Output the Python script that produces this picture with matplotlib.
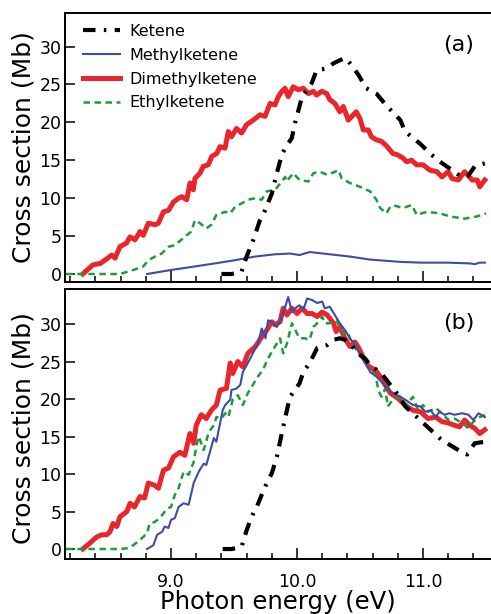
import matplotlib
matplotlib.use("Agg")
import matplotlib.pyplot as plt
from matplotlib.ticker import MultipleLocator, FixedLocator

plt.rcParams['font.family'] = ['DejaVu Sans']

# ---------------- data (panel a) ----------------
a_ket_E = [9.40, 9.48, 9.56, 9.60, 9.653, 9.706, 9.746, 9.80, 9.84, 9.88, 9.92, 9.958, 9.984, 10.04,
           10.117, 10.156, 10.236, 10.29, 10.34, 10.38, 10.42, 10.486, 10.55, 10.63, 10.71, 10.82,
           10.857, 10.976, 11.055, 11.135, 11.214, 11.307, 11.36, 11.41, 11.49]
a_ket_v = [0.0, 0.0, 0.3, 2.3, 4.5, 7.1, 8.4, 10.6, 13.3, 15.8, 17.0, 17.9, 19.9, 23.4,
           25.2, 26.9, 27.1, 27.8, 28.2, 28.5, 27.8, 26.3, 24.5, 23.8, 22.2, 20.3,
           18.8, 17.2, 15.9, 14.8, 13.9, 12.8, 13.0, 14.2, 14.6]

a_met_E = [8.81, 8.99, 9.19, 9.35, 9.50, 9.667, 9.825, 9.944, 10.02, 10.10, 10.26, 10.42, 10.58,
           10.74, 10.82, 10.98, 11.19, 11.37, 11.41, 11.45, 11.49]
a_met_v = [0.0, 0.5, 1.0, 1.4, 1.8, 2.3, 2.6, 2.7, 2.5, 2.9, 2.6, 2.3, 1.9,
           1.7, 1.6, 1.5, 1.5, 1.4, 1.3, 1.5, 1.5]

a_dim_E = [8.30, 8.38, 8.44, 8.49, 8.53, 8.556, 8.595, 8.648, 8.675, 8.714, 8.754, 8.78, 8.82,
           8.873, 8.90, 8.94, 8.98, 9.02, 9.06, 9.085, 9.125, 9.151, 9.177, 9.19, 9.23, 9.256,
           9.296, 9.323, 9.363, 9.389, 9.429, 9.455, 9.48, 9.52, 9.56, 9.60, 9.653, 9.706, 9.746,
           9.786, 9.825, 9.852, 9.88, 9.905, 9.93, 9.97, 10.01, 10.05, 10.09, 10.13, 10.156,
           10.196, 10.236, 10.26, 10.30, 10.34, 10.367, 10.407, 10.447, 10.47, 10.50, 10.526,
           10.566, 10.59, 10.63, 10.67, 10.71, 10.76, 10.80, 10.84, 10.87, 10.91, 10.95, 11.00,
           11.055, 11.11, 11.15, 11.20, 11.23, 11.28, 11.33, 11.39, 11.43, 11.45, 11.49]
a_dim_v = [0.0, 1.2, 1.4, 2.0, 2.5, 2.1, 3.6, 4.1, 4.9, 4.5, 5.6, 5.1, 6.7,
           6.5, 6.7, 8.2, 8.4, 9.5, 10.0, 10.2, 9.8, 12.0, 11.1, 12.6, 13.3, 14.2,
           14.4, 15.5, 15.9, 16.8, 16.6, 18.8, 18.1, 19.2, 18.6, 19.7, 20.3, 21.0, 20.8,
           22.5, 22.3, 23.4, 24.1, 24.5, 23.4, 24.7, 24.3, 24.5, 23.8, 24.1, 23.6,
           24.1, 23.8, 23.0, 22.5, 21.4, 22.1, 20.3, 21.0, 21.4, 20.5, 19.0,
           19.0, 18.1, 17.7, 17.5, 16.9, 15.9, 15.7, 15.3, 14.8, 15.0, 14.4, 14.4,
           13.7, 13.5, 12.8, 13.5, 12.6, 12.4, 13.5, 12.4, 12.4, 11.5, 12.4]

a_eth_E = [8.17, 8.595, 8.714, 8.78, 8.82, 8.873, 8.926, 8.98, 9.03, 9.11, 9.16, 9.19, 9.23, 9.28,
           9.32, 9.36, 9.43, 9.47, 9.51, 9.56, 9.61, 9.67, 9.72, 9.76, 9.825, 9.88, 9.905, 9.917,
           9.97, 10.02, 10.09, 10.13, 10.18, 10.236, 10.275, 10.33, 10.355, 10.42, 10.50, 10.58,
           10.63, 10.66, 10.71, 10.74, 10.78, 10.84, 10.91, 10.95, 11.03, 11.135, 11.21, 11.33,
           11.43, 11.50]
a_eth_v = [0.0, 0.0, 0.6, 1.0, 1.8, 2.3, 2.7, 3.6, 3.8, 4.9, 5.6, 7.1, 6.7, 6.0,
           6.5, 7.8, 8.2, 8.0, 8.9, 9.3, 9.8, 10.0, 9.8, 10.9, 11.1, 12.2, 12.8, 12.2,
           13.3, 12.4, 12.2, 13.3, 13.5, 13.1, 13.3, 13.7, 12.6, 12.0, 11.5, 10.9,
           9.8, 8.7, 8.0, 8.9, 9.0, 8.7, 9.1, 7.8, 8.2, 8.0, 7.6, 7.3,
           7.6, 8.0]

# ---------------- data (panel b) ----------------
b_ket_E = [9.41, 9.48, 9.56, 9.60, 9.64, 9.69, 9.746, 9.80, 9.84, 9.88, 9.905, 9.944, 9.984, 10.02,
           10.05, 10.10, 10.16, 10.24, 10.29, 10.34, 10.38, 10.43, 10.48, 10.54, 10.58, 10.63,
           10.68, 10.79, 10.86, 10.95, 11.06, 11.13, 11.21, 11.30, 11.35, 11.41, 11.49]
b_ket_v = [0.0, 0.0, 0.3, 2.5, 4.3, 6.0, 8.3, 10.1, 12.3, 15.5, 17.4, 20.3, 21.2, 22.1,
           23.6, 24.8, 26.8, 27.2, 27.9, 28.1, 27.9, 27.2, 26.1, 25.4, 24.5, 23.9,
           23.2, 20.8, 19.0, 17.6, 15.9, 14.8, 13.9, 13.0, 12.6, 14.1, 14.3]

b_met_E = [8.81, 8.86, 8.89, 8.93, 8.95, 8.98, 9.00, 9.03, 9.06, 9.10, 9.14, 9.18, 9.22, 9.26,
           9.28, 9.31, 9.34, 9.36, 9.39, 9.41, 9.43, 9.47, 9.48, 9.52, 9.55, 9.57, 9.60, 9.65,
           9.69, 9.72, 9.75, 9.77, 9.80, 9.84, 9.865, 9.89, 9.93, 9.96, 10.00, 10.02, 10.05,
           10.08, 10.12, 10.16, 10.20, 10.22, 10.26, 10.30, 10.34, 10.38, 10.42, 10.46, 10.50,
           10.54, 10.58, 10.63, 10.68, 10.74, 10.80, 10.86, 10.92, 10.98, 11.02, 11.06, 11.10,
           11.13, 11.17, 11.21, 11.25, 11.31, 11.36, 11.40, 11.44, 11.49]
b_met_v = [0.0, 0.5, 1.9, 2.3, 3.0, 2.8, 3.9, 4.1, 5.6, 6.1, 5.9, 8.8, 10.3, 11.4,
           11.2, 13.0, 14.8, 14.3, 16.8, 18.5, 19.2, 19.9, 21.2, 21.4, 21.9, 23.6, 24.5, 26.1,
           27.4, 29.4, 28.1, 30.5, 30.3, 29.6, 30.3, 31.4, 33.6, 31.6, 32.3, 32.5, 31.9,
           33.4, 33.2, 32.8, 33.0, 32.1, 32.3, 31.2, 30.1, 29.2, 28.1, 27.2, 25.9,
           25.0, 23.6, 23.0, 22.1, 21.0, 20.5, 19.9, 19.2, 19.0, 18.3, 18.5, 17.6,
           18.3, 17.9, 18.1, 17.9, 18.1, 17.9, 17.2, 18.1, 17.6]

b_dim_E = [8.30, 8.357, 8.41, 8.45, 8.49, 8.516, 8.54, 8.57, 8.595, 8.65, 8.675, 8.71, 8.754, 8.79,
           8.82, 8.87, 8.90, 8.94, 8.98, 9.02, 9.07, 9.11, 9.15, 9.18, 9.20, 9.24, 9.28, 9.32,
           9.36, 9.39, 9.44, 9.47, 9.49, 9.53, 9.57, 9.61, 9.67, 9.72, 9.76, 9.80, 9.825, 9.865,
           9.89, 9.92, 9.96, 10.00, 10.04, 10.08, 10.12, 10.16, 10.20, 10.24, 10.29, 10.31,
           10.34, 10.38, 10.42, 10.46, 10.49, 10.53, 10.57, 10.62, 10.66, 10.71, 10.74, 10.80,
           10.87, 10.92, 10.98, 11.04, 11.10, 11.15, 11.20, 11.25, 11.29, 11.33, 11.37, 11.41,
           11.45, 11.49]
b_dim_v = [0.0, 0.8, 1.6, 1.9, 1.9, 2.3, 3.4, 3.0, 4.3, 5.0, 6.1, 5.6, 7.0, 6.8,
           8.8, 8.5, 8.1, 10.5, 10.8, 12.3, 12.9, 12.5, 15.4, 14.1, 16.5, 17.9, 17.4, 18.5,
           19.2, 21.2, 21.4, 24.8, 23.4, 25.0, 24.3, 26.1, 27.0, 28.3, 29.2, 30.3, 29.9, 30.3,
           32.1, 31.2, 32.1, 31.4, 32.1, 31.4, 31.4, 31.0, 31.6, 31.2, 30.1, 29.0,
           29.6, 28.1, 27.0, 27.6, 26.8, 25.4, 24.3, 23.9, 23.0, 21.6, 20.8, 20.1,
           19.0, 18.5, 18.3, 17.4, 17.6, 17.0, 16.8, 16.5, 16.3, 17.2, 16.5, 16.1,
           15.4, 15.9]

b_eth_E = [8.17, 8.595, 8.65, 8.70, 8.754, 8.81, 8.83, 8.87, 8.91, 8.97, 9.00, 9.03, 9.06, 9.10,
           9.14, 9.18, 9.20, 9.22, 9.26, 9.30, 9.34, 9.36, 9.40, 9.43, 9.455, 9.49, 9.53, 9.57,
           9.61, 9.65, 9.69, 9.73, 9.77, 9.80, 9.84, 9.865, 9.89, 9.92, 9.96, 9.98, 10.02, 10.06,
           10.10, 10.13, 10.17, 10.20, 10.22, 10.26, 10.31, 10.34, 10.37, 10.40, 10.42, 10.46,
           10.50, 10.54, 10.58, 10.62, 10.65, 10.67, 10.70, 10.72, 10.76, 10.82, 10.87, 10.92,
           10.96, 11.00, 11.04, 11.10, 11.15, 11.20, 11.25, 11.31, 11.36, 11.40, 11.45, 11.50]
b_eth_v = [0.0, 0.0, 0.1, 0.5, 1.2, 2.1, 3.4, 3.6, 4.1, 5.4, 5.6, 7.2, 8.1, 10.3,
           9.9, 11.6, 13.6, 15.0, 13.2, 15.6, 16.5, 17.6, 17.4, 18.1, 17.6, 19.9, 20.5, 19.2,
           20.8, 21.9, 23.0, 23.9, 25.4, 26.3, 27.4, 28.1, 26.1, 27.4, 30.1, 29.4, 28.1, 28.1,
           27.9, 29.6, 30.3, 31.0, 30.1, 30.1, 30.5, 29.6, 28.8, 29.0, 28.1, 26.8,
           25.9, 25.0, 23.9, 23.2, 21.0, 20.3, 21.4, 19.0, 19.9, 20.3, 19.2, 20.3,
           18.5, 19.2, 18.3, 18.8, 18.1, 17.2, 17.4, 16.8, 16.1, 17.0, 17.6, 17.9]

series_names = ["Ketene", "Methylketene", "Dimethylketene", "Ethylketene"]
y_ticks = [0, 5, 10, 15, 20, 25, 30]
x_major = [9.0, 10.0, 11.0]
x_labels = ["9.0", "10.0", "11.0"]

# ---------------- styles ----------------
C_RED = "#e8262b"
C_BLUE = "#3b4ea6"
C_GREEN = "#1e9c3c"
C_BLACK = "#000000"

W, H = 491, 614
fig = plt.figure(figsize=(W / 100, H / 100), dpi=100)

def px_axes(l, t, r, b):
    return fig.add_axes([l / W, 1 - b / H, (r - l) / W, (b - t) / H])

ax_a = px_axes(65, 13, 494, 282)
ax_b = px_axes(65, 289, 494, 559)

def style(ax, ylim, show_xlabels):
    ax.set_xlim(8.159, 11.563)
    ax.set_ylim(*ylim)
    for s in ax.spines.values():
        s.set_linewidth(1.4)
    ax.yaxis.set_major_locator(FixedLocator(y_ticks))
    ax.xaxis.set_major_locator(FixedLocator(x_major))
    ax.xaxis.set_minor_locator(MultipleLocator(0.2))
    ax.tick_params(axis='y', which='major', direction='in', length=7, width=1.1,
                   labelsize=12.5, pad=2.5, right=False)
    ax.tick_params(axis='x', which='major', direction='in', length=8, width=1.1,
                   labelsize=12.5, pad=10, top=False)
    ax.tick_params(axis='x', which='minor', direction='in', length=4.5, width=1.1, top=False)
    if show_xlabels:
        ax.set_xticklabels(x_labels)
    else:
        ax.set_xticklabels([])

def draw(ax, ket, met, dim, eth):
    ax.plot(dim[0], dim[1], color=C_RED, lw=3.6, solid_joinstyle='round', label=series_names[2], zorder=2)
    ax.plot(eth[0], eth[1], color=C_GREEN, lw=1.8, linestyle=(0, (2.6, 1.8)), label=series_names[3], zorder=3)
    ax.plot(met[0], met[1], color=C_BLUE, lw=1.5, label=series_names[1], zorder=4)
    ax.plot(ket[0], ket[1], color=C_BLACK, lw=3.0, linestyle=(0, (3.0, 2.0, 0.6, 2.0)),
            label=series_names[0], zorder=5)

draw(ax_a, (a_ket_E, a_ket_v), (a_met_E, a_met_v), (a_dim_E, a_dim_v), (a_eth_E, a_eth_v))
draw(ax_b, (b_ket_E, b_ket_v), (b_met_E, b_met_v), (b_dim_E, b_dim_v), (b_eth_E, b_eth_v))

style(ax_a, (-1.055, 34.43), False)
style(ax_b, (-1.33, 34.67), True)

# legend in panel a
handles, labels = ax_a.get_legend_handles_labels()
order = [labels.index(n) for n in series_names]
ax_a.legend([handles[i] for i in order], [labels[i] for i in order],
            loc='upper left', bbox_to_anchor=(83 / W, 1 - 24 / H), bbox_transform=fig.transFigure,
            frameon=False, fontsize=11.5, handlelength=2.3, handletextpad=0.6,
            labelspacing=0.55, borderpad=0, borderaxespad=0)

ax_a.text(459 / W, 1 - 45 / H, "(a)", transform=fig.transFigure, fontsize=16, ha='center', va='center')
ax_b.text(459 / W, 1 - 323 / H, "(b)", transform=fig.transFigure, fontsize=16, ha='center', va='center')

fig.text(24 / W, 1 - 147 / H, "Cross section (Mb)", rotation=90, fontsize=18, ha='center', va='center')
fig.text(24 / W, 1 - 428 / H, "Cross section (Mb)", rotation=90, fontsize=18, ha='center', va='center')
fig.text(278 / W, 1 - 609 / H, "Photon energy (eV)", fontsize=17.5, ha='center', va='baseline')

fig.savefig("out.png", dpi=100)
